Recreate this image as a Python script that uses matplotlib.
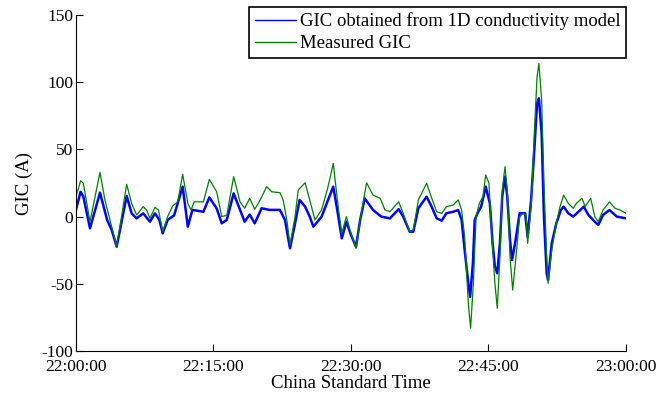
import matplotlib.pyplot as plt
from matplotlib.lines import Line2D

# minutes after 22:00:00
t_model = [0, 0.5, 0.8, 1.53, 2.62, 3.4, 3.9, 4.44, 5.53, 6.07, 6.6, 7.34, 8.07, 8.62, 9.1, 9.46,
           10.0, 10.7, 11.64, 12.2, 12.7, 13.9, 14.55, 15.35, 15.9, 16.45, 17.2, 17.9, 18.4, 18.95,
           19.5, 20.25, 21.1, 22.25, 22.8, 23.35, 23.9, 24.4, 25.0, 25.5, 25.9, 26.8, 27.5, 28.07,
           28.5, 29.0, 29.5, 30.0, 30.55, 31.0, 31.5, 32.4, 33.3, 34.25, 35.2, 35.7, 36.4, 36.8,
           37.35, 38.25, 38.8, 39.35, 39.9, 40.4, 41.15, 41.7, 42.07, 42.4, 42.8, 43.0, 43.3, 43.5,
           43.8, 44.2, 44.7, 45.15, 45.45, 45.7, 45.96, 46.25, 46.5, 46.8, 47.05, 47.35, 47.57,
           47.9, 48.4, 49.0, 49.27, 49.65, 50.0, 50.3, 50.5, 50.8, 51.05, 51.35, 51.5, 51.9, 52.4,
           52.9, 53.2, 53.7, 54.25, 55.4, 55.9, 56.6, 56.98, 57.5, 58.2, 59.0, 60]
gic_model = [5, 18.5, 15, -8.7, 17.8, -2.5, -10, -22.4, 15.3, 2.4, -1.3, 2.4, -3.8, 2.4, -2.5, -12.4,
             -2.5, 0.9, 22.3, -7.5, 5, 3.6, 14.3, 6, -5, -2.5, 17.3, 5, -3.8, 1.5,
             -5, 6.2, 5, 5, -2.5, -23.6, -5, 12.4, 7.4, 0, -7.5, 0, 12.4, 22.3,
             5, -16.2, -3.8, -13.7, -22.4, -2.5, 13.6, 5, 0, -1.3, 5.5, 0, -11.2, -11.2,
             6.2, 14.8, 7.4, -1.3, -3, 2.5, 3.6, 4.9, -2.5, -24.8, -49.6, -59.6, -34.8, -2.5,
             2.5, 7.4, 22.3, 9.9, -19.9, -37.2, -42.2, -19.9, 14.8, 29.7, 14.8, -17.4, -32.3,
             -19.9, 2.5, 2.5, -15, 12.4, 49.6, 84.3, 88, 62, 0, -42.2, -47.2, -19.9, -5,
             4.9, 7.4, 2.5, 0, 7.4, 1.2, -3.8, -6.2, 1.2, 4.9, 0, -1.3]

t_meas = [0, 0.51, 0.8, 1.53, 2.62, 3.16, 3.71, 4.44, 5.53, 6.07, 6.62, 7.34, 7.7, 8.07, 8.62, 9.0,
          9.46, 10.0, 10.55, 11.1, 11.64, 12.2, 12.55, 12.9, 13.9, 14.55, 15.35, 15.9, 16.45, 17.2,
          17.9, 18.4, 18.95, 19.5, 20.07, 20.8, 21.35, 22.25, 22.6, 23.0, 23.35, 23.9, 24.25, 25.0,
          25.5, 26.07, 26.8, 27.5, 28.07, 28.6, 29.0, 29.5, 30.0, 30.55, 31.0, 31.7, 32.4, 33.2,
          33.7, 34.25, 35.2, 35.7, 36.4, 36.8, 37.35, 38.25, 38.8, 39.35, 39.9, 40.4, 41.15, 41.7,
          42.07, 42.4, 42.8, 43.05, 43.35, 43.65, 44.0, 44.4, 44.7, 45.05, 45.35, 45.7, 45.96,
          46.25, 46.5, 46.8, 47.05, 47.35, 47.64, 48.07, 48.4, 48.8, 49.1, 49.27, 49.65, 50.0,
          50.3, 50.5, 50.8, 51.05, 51.35, 51.5, 51.9, 52.4, 52.8, 53.2, 53.7, 54.25, 54.6, 55.2,
          55.55, 56.15, 56.6, 56.98, 57.5, 58.2, 58.8, 59.35, 60]
gic_meas = [14.8, 26.7, 24.8, -3.8, 33, 12.4, -2.5, -22.4, 24, 9.9, 1.2, 7.4, 5, -1.3, 6.9, 4.9,
            -11.2, 0, 7.9, 11, 31.5, 9.9, 4.9, 11, 11, 27.7, 18.5, 0, 1, 29.7,
            11, 6.2, 13.6, 5.5, 12, 22.3, 18.5, 17.8, 12.4, -2.5, -21, 0, 19.8, 25.2,
            12.4, -2.5, 5, 22.3, 39.6, 7.4, -12.4, 0, -12.4, -23.6, -2.5, 25.2, 16, 13.6,
            5, 3.6, 11, 2.4, -11.2, -10, 12.4, 24.8, 14, 3.6, 2.4, 7.4, 8.6, 12.4,
            4.9, -15, -64.5, -83, -49.6, 0, 9.9, 14.8, 31, 24.8, -12.4, -49.6, -68.2,
            -29.8, 19.8, 37.1, 19.8, -29.8, -54.6, -24.8, 0, 2.5, 1.2, -19.9, 7.4, 62,
            104, 114, 86.8, 24.8, -29.8, -49.6, -24.8, -5, 7.4, 16, 9.9, 6.2, 9.9, 13.6,
            7.4, 13.6, 0, -3.8, 4.9, 11, 6.2, 4.9, 2.5]

xticks = [0, 15, 30, 45, 60]
xtick_labels = ['22:00:00', '22:15:00', '22:30:00', '22:45:00', '23:00:00']
yticks = [-100, -50, 0, 50, 100, 150]

plt.rcParams['font.family'] = ['Liberation Serif', 'DejaVu Serif']
plt.rcParams['axes.unicode_minus'] = False

fig = plt.figure(figsize=(6.7, 3.95), dpi=100)
ax = fig.add_axes([0.1134, 0.1114, 0.8209, 0.8506])

blue = (0, 0, 1)
green = (0, 0.5, 0)
ax.plot(t_model, gic_model, color=blue, lw=1.8)
ax.plot(t_meas, gic_meas, color=green, lw=0.9)

ax.set_xlim(0, 60)
ax.set_ylim(-100, 150)
ax.set_xticks(xticks)
ax.set_xticklabels(xtick_labels)
ax.set_yticks(yticks)
ax.tick_params(direction='in', length=5, width=0.8, labelsize=12.5)
ax.tick_params(axis='x', pad=6)
ax.tick_params(axis='y', pad=2)
ax.spines['top'].set_visible(False)
ax.spines['right'].set_visible(False)
for s in ['left', 'bottom']:
    ax.spines[s].set_linewidth(0.8)

ax.set_xlabel('China Standard Time', fontsize=13.5, labelpad=0)
ax.set_ylabel('GIC (A)', fontsize=13.5, labelpad=6)

handles = [Line2D([], [], color=blue, lw=1), Line2D([], [], color=green, lw=1)]
leg = fig.legend(handles, ['GIC obtained from 1D conductivity model', 'Measured GIC'],
                 loc='upper right', bbox_to_anchor=(626 / 670, 1 - 7 / 395), fontsize=13.5,
                 fancybox=False, framealpha=1, edgecolor='black', handlelength=2.2,
                 handletextpad=0.2, borderpad=0.3, labelspacing=0.25, borderaxespad=0)
leg.get_frame().set_linewidth(1.2)

plt.savefig('out.png', dpi=100)
